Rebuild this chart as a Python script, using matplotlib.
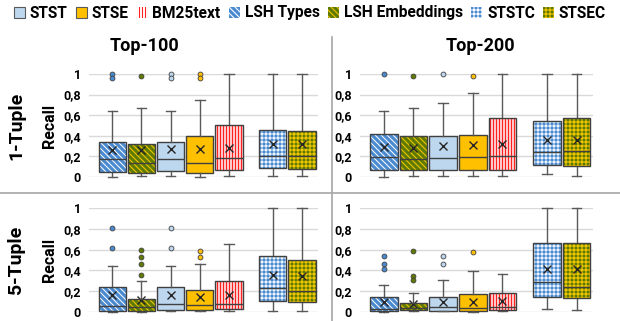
import matplotlib
matplotlib.use("Agg")
import matplotlib.pyplot as plt
from matplotlib.patches import Patch, PathPatch
from matplotlib.lines import Line2D

# dpi 72 so that hatch tiles (one inch) line up with whole pixels; k rescales point sizes
DPI = 72
k = 100 / 72

plt.rcParams['font.family'] = ['Roboto', 'DejaVu Sans']
plt.rcParams['font.weight'] = 'bold'
plt.rcParams['hatch.linewidth'] = 1.1

# box order on the x axis
methods = ['LSH Types', 'LSH Embeddings', 'STST', 'STSE', 'BM25text', 'STSTC', 'STSEC']
legend_order = ['STST', 'STSE', 'BM25text', 'LSH Types', 'LSH Embeddings', 'STSTC', 'STSEC']
positions = [1, 2, 3, 4, 5, 6.5, 7.5]
yticks = [0, 0.2, 0.4, 0.6, 0.8, 1]
ytick_labels = ['0', '0,2', '0,4', '0,6', '0,8', '1']

# 1-Tuple, Top-100
t100_1_lo = [0.0, 0.01, 0.01, 0.0, 0.01, 0.01, 0.01]
t100_1_q1 = [0.05, 0.04, 0.055, 0.04, 0.065, 0.09, 0.075]
t100_1_med = [0.17, 0.14, 0.17, 0.14, 0.185, 0.20, 0.20]
t100_1_q3 = [0.34, 0.32, 0.34, 0.40, 0.50, 0.46, 0.45]
t100_1_hi = [0.64, 0.67, 0.64, 0.75, 1.0, 1.0, 1.0]
t100_1_mean = [0.26, 0.26, 0.27, 0.27, 0.28, 0.32, 0.32]
t100_1_out = [[1.0, 0.96], [0.98], [1.0, 0.96], [1.0, 0.96], [], [], []]

# 1-Tuple, Top-200
t200_1_lo = [0.0, 0.01, 0.01, 0.01, 0.01, 0.03, 0.01]
t200_1_q1 = [0.07, 0.07, 0.07, 0.07, 0.07, 0.115, 0.11]
t200_1_med = [0.19, 0.175, 0.18, 0.19, 0.20, 0.24, 0.255]
t200_1_q3 = [0.415, 0.40, 0.40, 0.405, 0.57, 0.54, 0.57]
t200_1_hi = [0.645, 0.67, 0.72, 0.82, 1.0, 1.0, 1.0]
t200_1_mean = [0.29, 0.28, 0.30, 0.31, 0.32, 0.36, 0.36]
t200_1_out = [[1.0], [0.98], [1.0], [0.98], [], [], []]

# 5-Tuple, Top-100
t100_5_lo = [0.0, 0.0, 0.005, 0.005, 0.005, 0.005, 0.005]
t100_5_q1 = [0.005, 0.005, 0.02, 0.02, 0.03, 0.11, 0.10]
t100_5_med = [0.06, 0.05, 0.08, 0.07, 0.08, 0.23, 0.20]
t100_5_q3 = [0.24, 0.125, 0.24, 0.215, 0.295, 0.54, 0.50]
t100_5_hi = [0.445, 0.295, 0.445, 0.465, 0.655, 1.0, 1.0]
t100_5_mean = [0.16, 0.12, 0.165, 0.145, 0.165, 0.36, 0.35]
t100_5_out = [[0.81, 0.62], [0.36, 0.46, 0.53, 0.60], [0.81, 0.62], [0.53, 0.59], [], [], []]

# 5-Tuple, Top-200
t200_5_lo = [0.0, 0.005, 0.005, 0.0, 0.005, 0.025, 0.02]
t200_5_q1 = [0.005, 0.015, 0.01, 0.005, 0.02, 0.14, 0.13]
t200_5_med = [0.025, 0.04, 0.045, 0.04, 0.045, 0.285, 0.245]
t200_5_q3 = [0.14, 0.09, 0.14, 0.17, 0.18, 0.66, 0.66]
t200_5_hi = [0.26, 0.185, 0.31, 0.395, 0.37, 1.0, 1.0]
t200_5_mean = [0.10, 0.08, 0.10, 0.095, 0.105, 0.41, 0.41]
t200_5_out = [[0.54, 0.46, 0.41], [0.59, 0.35, 0.31], [0.54, 0.46], [0.575], [], [], []]

blue = '#4A8AD0'
olive = '#5F7A00'
yellow = '#F0C400'
styles = {
    'LSH Types': dict(face=blue, hatch='\\' * 4, hcol='white', hlw=1.0, flier=blue),
    'LSH Embeddings': dict(face=olive, hatch='\\' * 4, hcol=yellow, hlw=1.1, flier=olive),
    'STST': dict(face='#BDD7EE', hatch=None, hcol=None, hlw=0, flier='#BDD7EE'),
    'STSE': dict(face='#FFC000', hatch=None, hcol=None, hlw=0, flier='#FFC000'),
    'BM25text': dict(face='white', hatch='|' * 4, hcol='#FF2020', hlw=1.5, flier='#FF2020'),
    'STSTC': dict(face=blue, hatch='+++', hcol='white', hlw=0.9, flier=blue),
    'STSEC': dict(face=olive, hatch='+++', hcol=yellow, hlw=1.2, flier=olive),
}


def make_stats(lo, q1, med, q3, hi, mean, out):
    stats = []
    for i in range(len(methods)):
        stats.append(dict(whislo=lo[i], q1=q1[i], med=med[i], q3=q3[i],
                          whishi=hi[i], mean=mean[i], fliers=out[i]))
    return stats


def draw_panel(ax, stats, ylabel=False):
    res = ax.bxp(stats, positions=positions, widths=0.93, patch_artist=True,
                 showmeans=True, capwidths=0.32,
                 whiskerprops=dict(color='#595959', lw=1 * k),
                 capprops=dict(color='#595959', lw=1 * k),
                 medianprops=dict(color='#404040', lw=1 * k),
                 meanprops=dict(marker='x', markeredgecolor='#262626',
                                markersize=6 * k, markeredgewidth=1 * k),
                 flierprops=dict(marker='o', markersize=3.5 * k,
                                 markeredgecolor='#404040', markeredgewidth=0.6 * k))
    for box, fl, m in zip(res['boxes'], res['fliers'], methods):
        st = styles[m]
        box.set_facecolor(st['face'])
        if st['hatch']:
            box.set_edgecolor(st['hcol'])
            box.set_hatch(st['hatch'])
            if hasattr(box, 'set_hatch_linewidth'):
                box.set_hatch_linewidth(st['hlw'])
            box.set_linewidth(0)
            ax.add_patch(PathPatch(box.get_path(), fill=False,
                                   edgecolor='#404040', lw=1 * k, zorder=2.5))
        else:
            box.set_edgecolor('#404040')
            box.set_linewidth(1 * k)
        fl.set_markerfacecolor(st['flier'])
    for ln in res['medians']:
        ln.set_zorder(3)
    ax.set_xlim(0.2, 8.05)
    ax.set_ylim(0, 1)
    ax.set_yticks(yticks)
    ax.set_yticklabels(ytick_labels, fontsize=9 * k, fontweight='bold')
    ax.set_xticks([])
    ax.tick_params(axis='y', length=0, pad=6 * k)
    ax.grid(axis='y', color='#D9D9D9', lw=1 * k)
    ax.set_axisbelow(True)
    for s in ax.spines.values():
        s.set_visible(False)
    for art in ax.get_children():
        try:
            art.set_clip_on(False)
        except Exception:
            pass
    if ylabel:
        ax.set_ylabel('Recall', fontsize=11.5 * k, fontweight='bold', labelpad=4 * k)


fig = plt.figure(figsize=(620 / DPI, 321 / DPI), dpi=DPI)
left_x, right_x = 0.1435, 0.5806
w_left, w_right = 0.3694, 0.3758
top_y, bot_y = 0.4486, 0.028
h = 0.3209

ax1 = fig.add_axes([left_x, top_y, w_left, h])
ax2 = fig.add_axes([right_x, top_y, w_right, h])
ax3 = fig.add_axes([left_x, bot_y, w_left, 0.324])
ax4 = fig.add_axes([right_x, bot_y, w_right, 0.324])

draw_panel(ax1, make_stats(t100_1_lo, t100_1_q1, t100_1_med, t100_1_q3, t100_1_hi, t100_1_mean, t100_1_out), True)
draw_panel(ax2, make_stats(t200_1_lo, t200_1_q1, t200_1_med, t200_1_q3, t200_1_hi, t200_1_mean, t200_1_out))
draw_panel(ax3, make_stats(t100_5_lo, t100_5_q1, t100_5_med, t100_5_q3, t100_5_hi, t100_5_mean, t100_5_out), True)
draw_panel(ax4, make_stats(t200_5_lo, t200_5_q1, t200_5_med, t200_5_q3, t200_5_hi, t200_5_mean, t200_5_out))

fig.text(145 / 620, 1 - 46 / 321, 'Top-100', ha='center', va='center', fontsize=13 * k, fontweight='bold')
fig.text(480 / 620, 1 - 46 / 321, 'Top-200', ha='center', va='center', fontsize=13 * k, fontweight='bold')
fig.text(16 / 620, 1 - 126 / 321, '1-Tuple', rotation=90, ha='center', va='center', fontsize=14 * k, fontweight='bold')
fig.text(16 / 620, 1 - 260 / 321, '5-Tuple', rotation=90, ha='center', va='center', fontsize=14 * k, fontweight='bold')

# separator lines
fig.add_artist(Line2D([332 / 620, 332 / 620], [0, 1 - 37 / 321], color='#A6A6A6', lw=1.2 * k))
fig.add_artist(Line2D([0, 1], [1 - 193 / 321, 1 - 193 / 321], color='#A6A6A6', lw=1.2 * k))

handles = []
for m in legend_order:
    st = styles[m]
    if st['hatch']:
        handles.append(Patch(facecolor=st['face'], edgecolor=st['hcol'], hatch=st['hatch'], lw=0))
    else:
        handles.append(Patch(facecolor=st['face'], edgecolor='#595959', lw=0.8 * k))
fig.legend(handles, legend_order, loc='center', bbox_to_anchor=(0.5, 1 - 13 / 321), ncol=7,
           frameon=False, handlelength=0.7, handleheight=0.7,
           handletextpad=0.3, columnspacing=0.55, prop=dict(weight='bold', size=11.2 * k))

fig.savefig('out.png', dpi=DPI)
